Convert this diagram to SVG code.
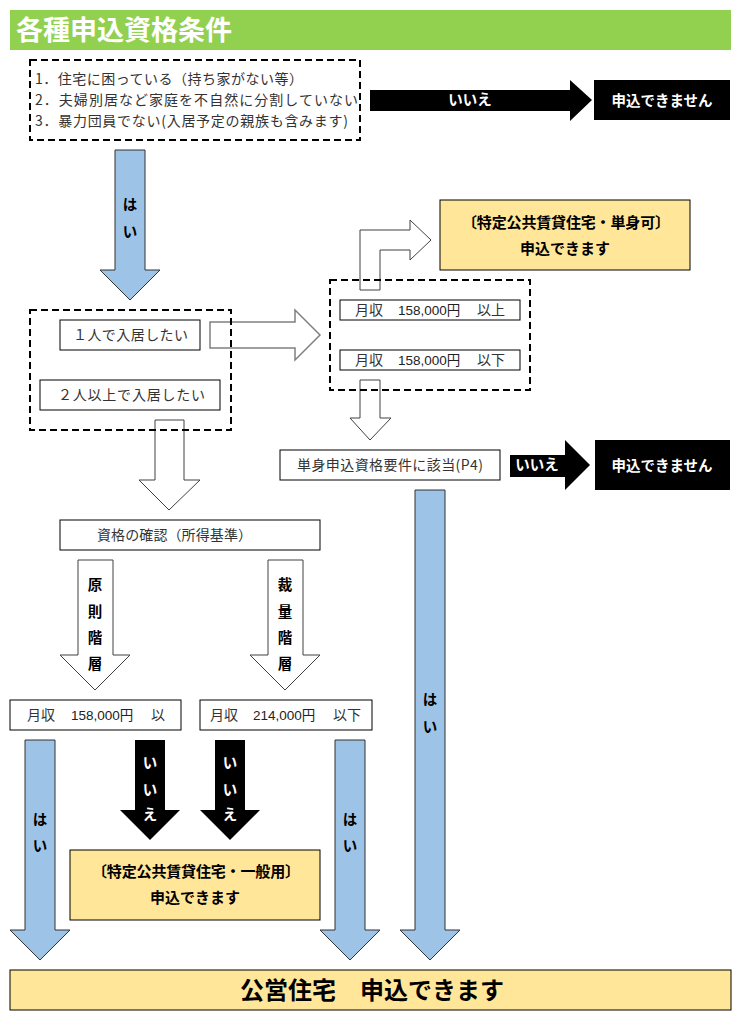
<svg xmlns="http://www.w3.org/2000/svg" width="741" height="1021" viewBox="0 0 741 1021">
<style>
text{font-family:"Noto Sans CJK JP","Noto Sans",sans-serif;}
.t{font-size:14px;fill:#333;}
.n{font-size:13.5px;fill:#222;font-family:"Liberation Sans","Noto Sans CJK JP",sans-serif;}
.b{font-size:14.5px;font-weight:bold;fill:#000;}
.y{font-size:15px;font-weight:bold;fill:#000;}
.w{font-size:14.5px;font-weight:bold;fill:#fff;}
.box{fill:#fff;stroke:#000;stroke-width:1;}
.dash{fill:none;stroke:#000;stroke-width:2;stroke-dasharray:7,4;}
.yel{fill:#FFE699;stroke:#000;stroke-width:1;}
.blk{fill:#000;}
.blue{fill:#9DC3E6;stroke:#333;stroke-width:1;}
.out{fill:#fff;stroke:#404040;stroke-width:1;}
.outg{fill:#fff;stroke:#808080;stroke-width:1.5;}
</style>
<rect width="741" height="1021" fill="#fff"/>
<g id="title">
<rect x="10" y="10" width="721" height="40" fill="#92D050"/>
<text x="16" y="40" font-size="27" font-weight="bold" fill="#fff">各種申込資格条件</text>
</g>
<g id="conditions">
<rect class="dash" x="30" y="60" width="330" height="80"/>
<text class="t" x="35" y="84" textLength="268">1．住宅に困っている（持ち家がない等）</text>
<text class="t" x="35" y="105" textLength="323">2．夫婦別居など家庭を不自然に分割していない</text>
<text class="t" x="35" y="126" textLength="313">3．暴力団員でない(入居予定の親族も含みます)</text>
</g>
<g id="connectors">
<path class="blk" d="M370,90 H570 V80 L592,100 L570,121 V111 H370 Z"/>
<path class="blue" d="M115,150 H145 V270 H160 L130,300 L100,270 H115 Z"/>
<path class="outg" d="M210,322 H295 V310 L320,335 L295,360 V348 H210 Z"/>
<path class="out" d="M155,420 H184 V480 H200 L169,510 L139,480 H155 Z"/>
<path class="out" d="M360,290 V230 H410 V220 L431,240 L410,260 V250 H380 V290 Z"/>
<path class="out" d="M360,380 H380 V418 H391 L370,440 L350,418 H360 Z"/>
<path class="blk" d="M510,455 H565 V440 L590,465 L565,490 V477 H510 Z"/>
<path class="blue" d="M415,490 H445 V930 H460 L430,960 L400,930 H415 Z"/>
<path class="out" d="M78,560 H113 V655 H130 L95,690 L60,655 H78 Z"/>
<path class="out" d="M268,560 H303 V655 H320 L285,690 L250,655 H268 Z"/>
<path class="blue" d="M25,740 H55 V930 H70 L40,960 L10,930 H25 Z"/>
<path class="blue" d="M335,740 H365 V930 H380 L350,960 L320,930 H335 Z"/>
<path class="blk" d="M135,740 H165 V810 H180 L150,840 L120,810 H135 Z"/>
<path class="blk" d="M215,740 H245 V810 H260 L230,840 L200,810 H215 Z"/>
<text class="w" x="470" y="105" text-anchor="middle">いいえ</text>
<text class="b" x="130" y="210" text-anchor="middle">は</text>
<text class="b" x="130" y="237" text-anchor="middle">い</text>
<text class="w" x="537" y="470" text-anchor="middle">いいえ</text>
<text class="b" x="430" y="705" text-anchor="middle">は</text>
<text class="b" x="430" y="732" text-anchor="middle">い</text>
<text class="b" x="95" y="590" text-anchor="middle">原</text>
<text class="b" x="95" y="617" text-anchor="middle">則</text>
<text class="b" x="95" y="643" text-anchor="middle">階</text>
<text class="b" x="95" y="669" text-anchor="middle">層</text>
<text class="b" x="285" y="590" text-anchor="middle">裁</text>
<text class="b" x="285" y="617" text-anchor="middle">量</text>
<text class="b" x="285" y="643" text-anchor="middle">階</text>
<text class="b" x="285" y="669" text-anchor="middle">層</text>
<text class="b" x="40" y="825" text-anchor="middle">は</text>
<text class="b" x="40" y="851" text-anchor="middle">い</text>
<text class="b" x="350" y="825" text-anchor="middle">は</text>
<text class="b" x="350" y="851" text-anchor="middle">い</text>
<text class="w" x="150" y="768" text-anchor="middle">い</text>
<text class="w" x="150" y="795" text-anchor="middle">い</text>
<text class="w" x="150" y="820" text-anchor="middle">え</text>
<text class="w" x="230" y="768" text-anchor="middle">い</text>
<text class="w" x="230" y="795" text-anchor="middle">い</text>
<text class="w" x="230" y="820" text-anchor="middle">え</text>
</g>
<g id="reject1">
<rect class="blk" x="594" y="80" width="136" height="40"/>
<text class="w" x="662" y="106" font-size="15.5" text-anchor="middle">申込できません</text>
</g>
<g id="household">
<rect class="dash" x="30" y="310" width="201" height="120"/>
</g>
<g id="single">
<rect class="box" x="60" y="320" width="140" height="30"/>
<text class="t" x="73" y="340" textLength="115">１人で入居したい</text>
</g>
<g id="multi">
<rect class="box" x="40" y="380" width="180" height="30"/>
<text class="t" x="58" y="400" textLength="147">２人以上で入居したい</text>
</g>
<g id="single-income">
<rect class="dash" x="330" y="280" width="200" height="110"/>
</g>
<g id="income-above">
<rect class="box" x="340" y="300" width="180" height="20"/>
<text class="t" x="355" y="315">月収</text>
<text class="n" x="398" y="315">158,000<tspan font-family="Noto Sans CJK JP">円</tspan></text>
<text class="t" x="477" y="315">以上</text>
</g>
<g id="income-below">
<rect class="box" x="340" y="350" width="180" height="20"/>
<text class="t" x="355" y="365">月収</text>
<text class="n" x="398" y="365">158,000<tspan font-family="Noto Sans CJK JP">円</tspan></text>
<text class="t" x="477" y="365">以下</text>
</g>
<g id="tokutei-single">
<rect class="yel" x="440" y="200" width="250" height="70"/>
<text class="y" x="566" y="228" text-anchor="middle" textLength="208">〔特定公共賃貸住宅・単身可〕</text>
<text class="y" x="565" y="254" text-anchor="middle">申込できます</text>
</g>
<g id="single-req">
<rect class="box" x="280" y="450" width="220" height="30"/>
<text class="t" x="390" y="470" text-anchor="middle" textLength="186">単身申込資格要件に該当(P4)</text>
</g>
<g id="reject2">
<rect class="blk" x="595" y="440" width="135" height="50"/>
<text class="w" x="662" y="471" font-size="15.5" text-anchor="middle">申込できません</text>
</g>
<g id="qualify">
<rect class="box" x="60" y="520" width="260" height="30"/>
<text class="t" x="97" y="540" textLength="155">資格の確認（所得基準）</text>
</g>
<g id="income-principle">
<rect class="box" x="10" y="700" width="171" height="30"/>
<text class="t" x="27" y="720">月収</text>
<text class="n" x="71" y="720">158,000<tspan font-family="Noto Sans CJK JP">円</tspan></text>
<text class="t" x="151" y="720">以</text>
</g>
<g id="income-discretion">
<rect class="box" x="200" y="700" width="172" height="30"/>
<text class="t" x="210" y="720">月収</text>
<text class="n" x="253" y="720">214,000<tspan font-family="Noto Sans CJK JP">円</tspan></text>
<text class="t" x="333" y="720">以下</text>
</g>
<g id="tokutei-general">
<rect class="yel" x="70" y="850" width="250" height="70"/>
<text class="y" x="196" y="877" text-anchor="middle" textLength="208">〔特定公共賃貸住宅・一般用〕</text>
<text class="y" x="195" y="903" text-anchor="middle">申込できます</text>
</g>
<g id="public-housing">
<rect class="yel" x="10" y="970" width="721" height="40"/>
<text x="372" y="999" font-size="24" font-weight="bold" fill="#000" text-anchor="middle">公営住宅　申込できます</text>
</g>
</svg>
